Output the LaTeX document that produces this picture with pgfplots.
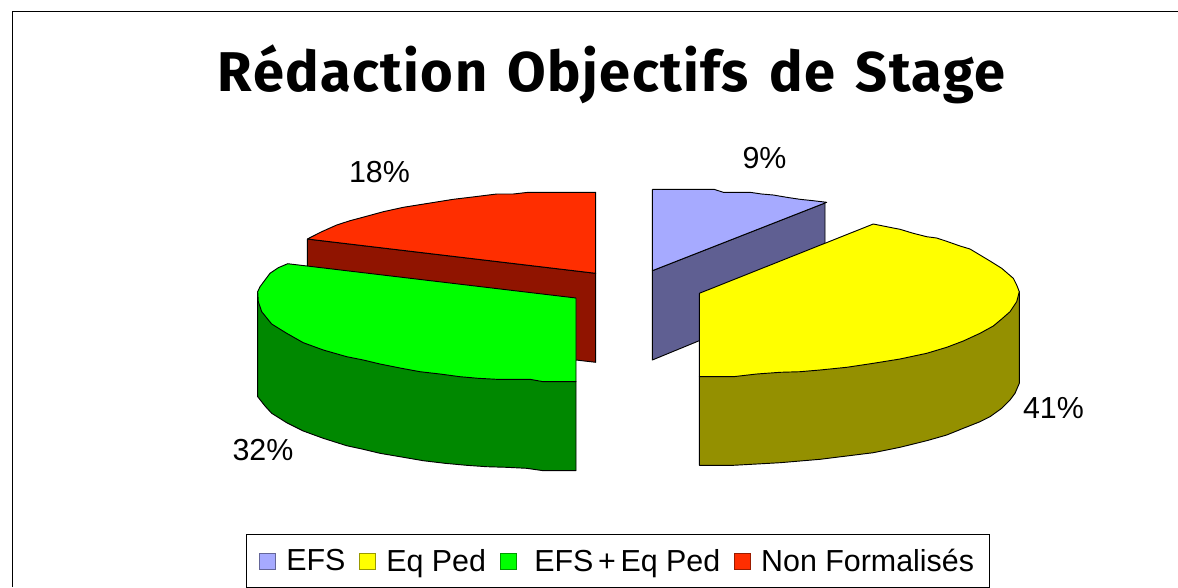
\documentclass[border=0pt]{standalone}
\usepackage{fontspec}
\setmainfont{Liberation Sans}
\newfontfamily\titlefont[LetterSpace=2.5,WordSpace=1.4]{Fira Sans}
\usepackage{pgfplots}
\pgfplotsset{compat=1.18}

\definecolor{efs}{HTML}{A6AAFF}
\definecolor{efsdark}{HTML}{5F5F92}
\definecolor{eqped}{HTML}{FFFF00}
\definecolor{eqpeddark}{HTML}{949000}
\definecolor{both}{HTML}{00FF00}
\definecolor{bothdark}{HTML}{008800}
\definecolor{nonf}{HTML}{FF2E00}
\definecolor{nonfdark}{HTML}{901400}

\pgfplotsset{
    slice/.style={draw=black, line width=0.7pt, line join=round, no markers, forget plot},
    swatch/.style={legend image code/.code={
        \draw[fill=#1, draw=#1!60!black, line width=0.7pt] (0pt,-6pt) rectangle (12pt,6pt);
        \path (17.5pt,0pt);
    }},
}

\begin{document}
\begin{tikzpicture}
    \path[use as bounding box] (0,0) rectangle (883.5pt,440.25pt);
    \begin{axis}[
        scale only axis,
        width=883.5pt, height=440.25pt,
        xmin=0, xmax=1178,
        ymin=0, ymax=587, y dir=reverse,
        hide axis,
        clip=true,
        title={\titlefont\bfseries Rédaction Objectifs de Stage},
        title style={at={(axis cs:611.5,82)}, anchor=center, font=\fontsize{42pt}{47pt}\selectfont},
        legend columns=-1,
        legend cell align=left,
        legend style={
            at={(axis cs:618,561)}, anchor=center,
            draw=black, line width=0.7pt,
            font=\fontsize{22.8pt}{26pt}\selectfont,
            inner xsep=9.5pt, inner ysep=9pt,
            /tikz/every even column/.append style={column sep=8.5pt},
        },
    ]
    % frame
    \addplot[black, line width=1pt, no markers, forget plot] coordinates {
        (12.5,587) (12.5,11.5) (1178,11.5)
    };

    % Non Formalises
    \addplot[slice, fill=nonfdark] coordinates {
        (307.3,239) (595.7,273.3) (595.7,362.3) (576,360) (307.3,330) (307.3,239)
    };
    \addplot[slice, fill=nonf] coordinates {
        (307.3,239) (321.7,231.7) (336.7,225) (350,220.7) (365,216.7) (383.3,211.7)
        (403.3,207.3) (428.3,203.3) (453.3,199.3) (475,196.7) (496.7,194) (513.3,194)
        (528.3,192.3) (595.7,192.3) (595.7,273.3) (307.3,239)
    };

    % EFS + Eq Ped
    \addplot[slice, fill=bothdark] coordinates {
        (257.7,291.7) (257.7,396.7) (265,406) (271.7,413.3) (286.7,422.7) (303.3,431)
        (323.3,438.3) (346.7,445.7) (363.3,449.3) (380,453.3) (400,456.7) (423.3,460.7)
        (445,463.3) (466.7,465.3) (486.7,466.7) (506.7,467.3) (526.7,468.3) (543.3,470.7)
        (576,470.7) (576,381.7) (257.7,291.7)
    };
    \addplot[slice, fill=both] coordinates {
        (287.7,263.7) (576,298) (576,381.7) (543.3,381.7) (530,379.3) (496.7,379.3)
        (478.3,378.3) (460,376.7) (440,374) (420,371.7) (400,368) (380,364) (363.3,360)
        (346.7,356.7) (323.3,350) (303.3,342.7) (286.7,333.3) (271.7,324) (261.7,311.7)
        (258.3,301.7) (257.7,291.7) (260,286.7) (265,280) (270,273.3) (278.3,267.7)
        (287.7,263.7)
    };

    % EFS
    \addplot[slice, fill=efsdark] coordinates {
        (652.3,270.7) (825,203) (825,289) (652.3,360) (652.3,270.7)
    };
    \addplot[slice, fill=efs] coordinates {
        (652.3,189.3) (714,189.3) (723.3,192.3) (750,192.3) (761.7,194) (773.3,195)
        (786.7,197.3) (800,199.3) (813.3,200.7) (826.7,202.3) (652.3,270.7) (652.3,189.3)
    };

    % Eq Ped
    \addplot[slice, fill=eqpeddark] coordinates {
        (1019.3,291.7) (1019.3,383.3) (1015,393.3) (1010,400) (1001.7,408.3) (990,416.7)
        (980,421.7) (963.3,428.3) (946.7,435) (926.7,440.7) (900,447.3) (873.3,452.7)
        (846.7,456) (820,459.3) (800,461) (780,462.7) (756.7,464) (733.3,465.3)
        (699.3,465.3) (699.3,376.7) (1019.3,291.7)
    };
    \addplot[slice, fill=eqped] coordinates {
        (699.3,293.3) (873.3,224) (886.7,226.7) (900,229.3) (913.3,233.3) (926.7,236.7)
        (936.7,238) (946.7,241.3) (960,246) (970,249) (980,255) (990,261) (1001.7,268.3)
        (1013.3,278.3) (1016.7,285) (1019.3,291.7) (1016.7,301.7) (1010,311.7) (1001.7,319)
        (993.3,326) (980,333.3) (963.3,341) (946.7,347.3) (926.7,353.3) (900,359)
        (873.3,363.3) (846.7,367.3) (820,370) (800,371.7) (780,372.3) (756.7,374)
        (733.3,376.7) (699.3,376.7) (699.3,293.3)
    };

    % percent labels
    \begin{scope}[font=\fontsize{22.8pt}{26pt}\selectfont]
        \node at (axis cs:764.5,158) {9\%};
        \node at (axis cs:379.5,172) {18\%};
        \node at (axis cs:263,450) {32\%};
        \node at (axis cs:1053.5,408) {41\%};
    \end{scope}

    \addlegendimage{swatch=efs}
    \addlegendentry{EFS}
    \addlegendimage{swatch=eqped}
    \addlegendentry{Eq Ped}
    \addlegendimage{swatch=both}
    \addlegendentry{\hspace{5.5pt}EFS\hspace{3.5pt}+\hspace{3.5pt}Eq Ped}
    \addlegendimage{swatch=nonf}
    \addlegendentry{Non Formalisés}
    \end{axis}
\end{tikzpicture}
\end{document}
